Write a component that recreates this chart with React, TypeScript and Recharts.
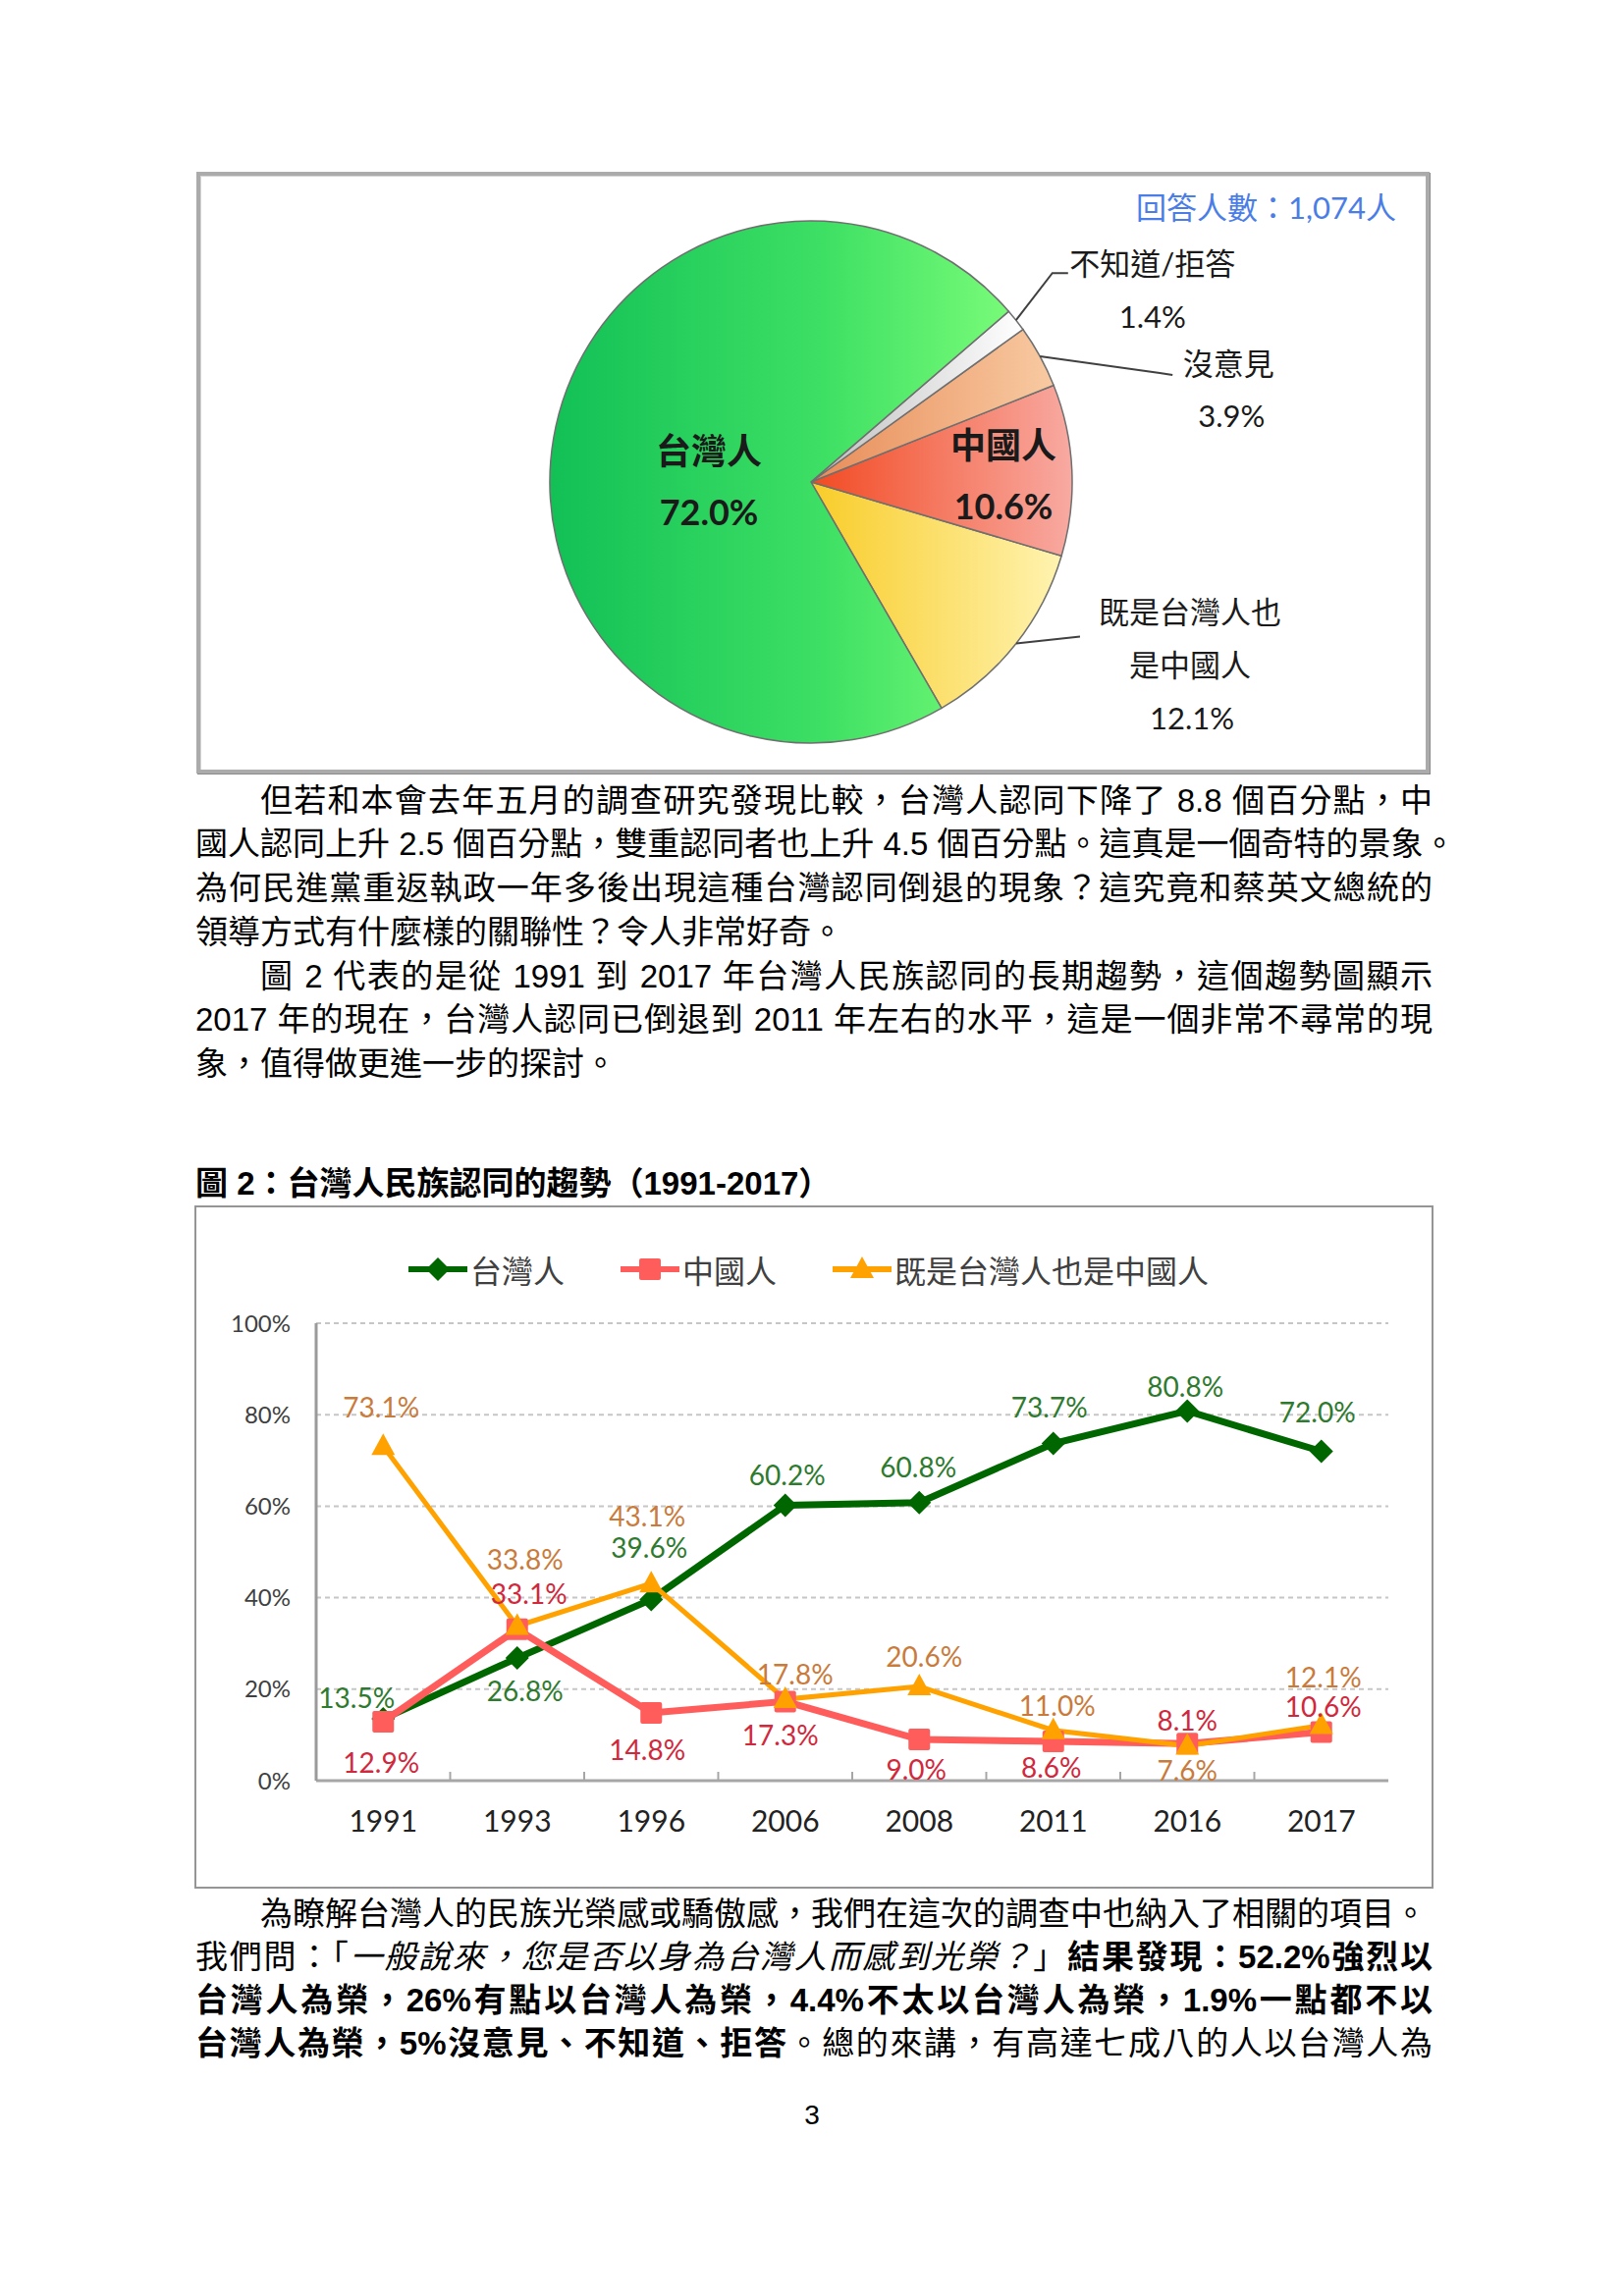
import React from "react";
import {
  CartesianGrid,
  Cell,
  LabelList,
  Line,
  LineChart,
  Pie,
  PieChart,
  XAxis,
  YAxis,
} from "recharts";

// ---- figure 1: pie (order follows the slices counter-clockwise from the bottom) ----
const pieNames = ["既是台灣人也是中國人", "中國人", "沒意見", "不知道/拒答", "台灣人"];
const pieValues = [12.1, 10.6, 3.9, 1.4, 72.0];
const respondents = "1,074";

// ---- figure 2: trend ----
const years = ["1991", "1993", "1996", "2006", "2008", "2011", "2016", "2017"];
const taiwanese = [13.5, 26.8, 39.6, 60.2, 60.8, 73.7, 80.8, 72.0];
const chinese = [12.9, 33.1, 14.8, 17.3, 9.0, 8.6, 8.1, 10.6];
const both = [73.1, 33.8, 43.1, 17.8, 20.6, 11.0, 7.6, 12.1];
const yTicks = [0, 20, 40, 60, 80, 100];

const trendData = years.map((year, i) => ({
  year,
  tw: taiwanese[i],
  cn: chinese[i],
  both: both[i],
}));

const series = [
  { key: "tw", name: "台灣人", color: "#006600", labelColor: "#2e7a2e", shape: "diamond", width: 7 },
  { key: "cn", name: "中國人", color: "#ff5c5c", labelColor: "#d0283c", shape: "square", width: 7 },
  { key: "both", name: "既是台灣人也是中國人", color: "#ffa200", labelColor: "#c97b3c", shape: "triangle", width: 5 },
];

const BODY_FONT = '"Liberation Sans", "Noto Sans CJK TC", sans-serif';
const CHART_FONT = 'Lato, "Noto Sans CJK TC", sans-serif';
const RAD = Math.PI / 180;

/* ---------------- pie labels ---------------- */

function PieLabel(props: any) {
  const { cx, cy, midAngle, outerRadius, index } = props;
  const pct = `${pieValues[index].toFixed(1)}%`;
  const ex = cx + outerRadius * Math.cos(-midAngle * RAD);
  const ey = cy + outerRadius * Math.sin(-midAngle * RAD);

  const txt = (x: number, y: number, s: string, size: number, bold = false, key?: string) => (
    <text
      key={key ?? s}
      x={x}
      y={y}
      textAnchor="middle"
      dominantBaseline="central"
      fontSize={size}
      fontWeight={bold ? 700 : 400}
      fontFamily={CHART_FONT}
      fill="#1a1a1a"
    >
      {s}
    </text>
  );
  const lead = "#404040";

  if (index === 4) {
    return (
      <g>
        {txt(cx - 104, cy - 32, "台灣人", 36, true)}
        {txt(cx - 104, cy + 30, pct, 36, true)}
      </g>
    );
  }
  if (index === 1) {
    return (
      <g>
        {txt(cx + 196, cy - 38, "中國人", 36, true)}
        {txt(cx + 196, cy + 24, pct, 36, true)}
      </g>
    );
  }
  if (index === 0) {
    return (
      <g>
        <polyline points={`${ex},${ey} ${ex + 65},${ey - 7}`} fill="none" stroke={lead} strokeWidth={2} />
        {txt(ex + 177, ey - 33, "既是台灣人也", 31)}
        {txt(ex + 177, ey + 21, "是中國人", 31)}
        {txt(ex + 179, ey + 75, pct, 31, false, "p0")}
      </g>
    );
  }
  if (index === 2) {
    return (
      <g>
        <polyline
          points={`${ex},${ey} ${ex + 122},${ey + 17} ${ex + 135},${ey + 19}`}
          fill="none"
          stroke={lead}
          strokeWidth={2}
        />
        {txt(ex + 192, ey + 7, "沒意見", 31)}
        {txt(ex + 195, ey + 60, pct, 31, false, "p2")}
      </g>
    );
  }
  return (
    <g>
      <polyline
        points={`${ex},${ey} ${ex + 37},${ey - 48} ${ex + 53},${ey - 48}`}
        fill="none"
        stroke={lead}
        strokeWidth={2}
      />
      {txt(ex + 139, ey - 58, "不知道/拒答", 31)}
      {txt(ex + 139, ey - 4, pct, 31, false, "p3")}
    </g>
  );
}

/* ---------------- trend chart pieces ---------------- */

function Marker({ cx, cy, shape, color }: { cx: number; cy: number; shape: string; color: string }) {
  if (shape === "diamond")
    return <polygon points={`${cx},${cy - 12} ${cx + 12},${cy} ${cx},${cy + 12} ${cx - 12},${cy}`} fill={color} />;
  if (shape === "square")
    return <rect x={cx - 11} y={cy - 11} width={22} height={22} rx={2} fill={color} />;
  return <polygon points={`${cx},${cy - 13} ${cx + 12},${cy + 9} ${cx - 12},${cy + 9}`} fill={color} />;
}

// label placement next to each point (dx, dy from the marker)
const labelOffsets: Record<string, [number, number][]> = {
  tw: [[-27, -22], [8, 33], [-2, -53], [2, -31], [-1, -37], [-4, -38], [-2, -25], [-4, -40]],
  cn: [[-2, 41], [12, -37], [-4, 37], [-5, 34], [-3, 30], [-2, 26], [0, -24], [2, -27]],
  both: [[-2, -40], [8, -68], [-4, -69], [10, -26], [5, -31], [4, -26], [0, 24], [2, -50]],
};

function makeLabel(key: string, color: string) {
  return function PointLabel(props: any) {
    const vb = props.viewBox || {};
    const x = props.x ?? vb.x;
    const y = props.y ?? vb.y;
    const i = props.index ?? 0;
    const v = Number(props.value);
    if (x == null || y == null || !Number.isFinite(v)) return null;
    const [dx, dy] = labelOffsets[key][i] || [0, -30];
    return (
      <text
        x={x + dx}
        y={y + dy}
        textAnchor="middle"
        dominantBaseline="central"
        fontSize={28}
        fontFamily={CHART_FONT}
        fill={color}
      >
        {v.toFixed(1)}%
      </text>
    );
  };
}

const CHART_W = 1259;
const CHART_H = 692;
const MARGIN = { top: 118, right: 45, bottom: 48, left: 42 };
const Y_AXIS_W = 80;
const PLOT_W = CHART_W - MARGIN.left - MARGIN.right - Y_AXIS_W;
const HALF_BAND = PLOT_W / years.length / 2;

function YearTick(props: any) {
  const { x, y, payload, index } = props;
  return (
    <g>
      {index > 0 && (
        <line x1={x - HALF_BAND} x2={x - HALF_BAND} y1={y} y2={y - 9} stroke="#a6a6a6" strokeWidth={2} />
      )}
      <text
        x={x}
        y={y + 40}
        textAnchor="middle"
        dominantBaseline="central"
        fontSize={30}
        fontFamily={CHART_FONT}
        fill="#222"
      >
        {payload.value}
      </text>
    </g>
  );
}

/* ---------------- page text ---------------- */

const LINE_H = 45;
const LEFT = 199;

function TextLine({
  cy,
  children,
  indent = false,
  justify = true,
  width = 1260,
  bold = false,
}: {
  cy: number;
  children: React.ReactNode;
  indent?: boolean;
  justify?: boolean;
  width?: number;
  bold?: boolean;
}) {
  return (
    <div
      style={{
        position: "absolute",
        left: LEFT,
        top: cy - 25,
        width,
        height: LINE_H,
        lineHeight: `${LINE_H}px`,
        fontSize: 33,
        fontFamily: BODY_FONT,
        fontWeight: bold ? 700 : 400,
        color: "#000",
        whiteSpace: "nowrap",
        textIndent: indent ? 66 : 0,
        textAlign: justify ? "justify" : "left",
        textAlignLast: justify ? "justify" : "left",
      }}
    >
      {children}
    </div>
  );
}

export default function App() {
  return (
    <div
      style={{
        position: "absolute",
        left: 0,
        top: 0,
        width: 1653,
        height: 2339,
        background: "#fff",
        overflow: "hidden",
      }}
    >
      {/* ---------- figure 1 ---------- */}
      <div
        style={{
          position: "absolute",
          left: 200,
          top: 175,
          width: 1256,
          height: 613,
          boxSizing: "border-box",
          border: "4px solid #ababab",
          boxShadow: "inset 1px 1px 0 #d4d4d4, 1px 1px 0 #8a8a8a",
        }}
      />
      <div
        style={{
          position: "absolute",
          left: 1157,
          top: 192,
          width: 280,
          height: 38,
          lineHeight: "38px",
          fontSize: 31,
          fontFamily: CHART_FONT,
          color: "#4a7de6",
          whiteSpace: "nowrap",
        }}
      >
        回答人數：{respondents}人
      </div>
      <div style={{ position: "absolute", left: 200, top: 175 }}>
        <PieChart width={1256} height={613} margin={{ top: 0, right: 0, bottom: 0, left: 0 }}>
          <defs>
            <linearGradient id="gTw" x1="0" y1="0" x2="1" y2="0">
              <stop offset="0%" stopColor="#12c056" />
              <stop offset="60%" stopColor="#3ee064" />
              <stop offset="100%" stopColor="#78fb78" />
            </linearGradient>
            <linearGradient id="gCn" x1="0" y1="0" x2="1" y2="0">
              <stop offset="0%" stopColor="#f24a22" />
              <stop offset="100%" stopColor="#f8aaa2" />
            </linearGradient>
            <linearGradient id="gBoth" x1="0" y1="0" x2="1" y2="0">
              <stop offset="0%" stopColor="#f8cc28" />
              <stop offset="100%" stopColor="#fff3b0" />
            </linearGradient>
            <linearGradient id="gNo" x1="0" y1="0" x2="1" y2="0">
              <stop offset="0%" stopColor="#e88c58" />
              <stop offset="100%" stopColor="#f8caa2" />
            </linearGradient>
            <linearGradient id="gDk" x1="0" y1="0" x2="1" y2="0">
              <stop offset="0%" stopColor="#bdbdbd" />
              <stop offset="100%" stopColor="#ffffff" />
            </linearGradient>
          </defs>
          <Pie
            data={pieNames.map((name, i) => ({ name, value: pieValues[i] }))}
            dataKey="value"
            nameKey="name"
            cx={626}
            cy={316}
            outerRadius={266}
            startAngle={-60}
            endAngle={300}
            stroke="#6f6f6f"
            strokeWidth={1.5}
            label={PieLabel}
            labelLine={false}
            isAnimationActive={false}
          >
            {["url(#gBoth)", "url(#gCn)", "url(#gNo)", "url(#gDk)", "url(#gTw)"].map((f, i) => (
              <Cell key={i} fill={f} />
            ))}
          </Pie>
        </PieChart>
      </div>

      {/* ---------- paragraphs ---------- */}
      <TextLine cy={818} indent>
        但若和本會去年五月的調查研究發現比較，台灣人認同下降了 8.8 個百分點，中
      </TextLine>
      <TextLine cy={862} justify={false} width={1300}>
        國人認同上升 2.5 個百分點，雙重認同者也上升 4.5 個百分點。這真是一個奇特的景象。
      </TextLine>
      <TextLine cy={907}>為何民進黨重返執政一年多後出現這種台灣認同倒退的現象？這究竟和蔡英文總統的</TextLine>
      <TextLine cy={952} justify={false}>
        領導方式有什麼樣的關聯性？令人非常好奇。
      </TextLine>
      <TextLine cy={997} indent>
        圖 2 代表的是從 1991 到 2017 年台灣人民族認同的長期趨勢，這個趨勢圖顯示
      </TextLine>
      <TextLine cy={1041}>2017 年的現在，台灣人認同已倒退到 2011 年左右的水平，這是一個非常不尋常的現</TextLine>
      <TextLine cy={1086} justify={false}>
        象，值得做更進一步的探討。
      </TextLine>

      <TextLine cy={1208} justify={false} bold>
        圖 2：台灣人民族認同的趨勢（1991-2017）
      </TextLine>

      {/* ---------- figure 2 ---------- */}
      <div
        style={{
          position: "absolute",
          left: 198,
          top: 1228,
          width: 1262,
          height: 696,
          boxSizing: "border-box",
          border: "2px solid #959595",
        }}
      />
      <div
        style={{
          position: "absolute",
          left: 416,
          top: 1273,
          height: 40,
          display: "flex",
          alignItems: "center",
          fontFamily: CHART_FONT,
          fontSize: 32,
          color: "#404040",
          whiteSpace: "nowrap",
        }}
      >
        {series.map((s, i) => (
          <div key={s.key} style={{ display: "flex", alignItems: "center", marginLeft: i === 0 ? 0 : 57 }}>
            <svg width={60} height={30}>
              <line x1={0} x2={60} y1={15} y2={15} stroke={s.color} strokeWidth={6} />
              <Marker cx={30} cy={15} shape={s.shape} color={s.color} />
            </svg>
            <span style={{ marginLeft: 3 }}>{s.name}</span>
          </div>
        ))}
      </div>
      <div style={{ position: "absolute", left: 200, top: 1230 }}>
        <LineChart width={CHART_W} height={CHART_H} data={trendData} margin={MARGIN}>
          <CartesianGrid vertical={false} stroke="#c6c6c6" strokeWidth={2} strokeDasharray="5 4" />
          <XAxis
            dataKey="year"
            padding={{ left: HALF_BAND, right: HALF_BAND }}
            axisLine={{ stroke: "#a6a6a6", strokeWidth: 3 }}
            tickLine={false}
            tickSize={0}
            tickMargin={0}
            height={60}
            interval={0}
            tick={<YearTick />}
          />
          <YAxis
            domain={[0, 100]}
            ticks={yTicks}
            tickFormatter={(v) => `${v}%`}
            axisLine={{ stroke: "#9a9a9a", strokeWidth: 3 }}
            tickLine={false}
            tickSize={0}
            tickMargin={26}
            width={Y_AXIS_W}
            tick={{ fontSize: 24, fill: "#404040", fontFamily: CHART_FONT }}
          />
          <YAxis
            yAxisId="frame"
            orientation="right"
            domain={[0, 100]}
            width={0}
            tick={false}
            tickLine={false}
            axisLine={{ stroke: "#cccccc", strokeWidth: 2 }}
          />
          {series.map((s) => (
            <Line
              key={s.key}
              dataKey={s.key}
              name={s.name}
              stroke={s.color}
              strokeWidth={s.width}
              isAnimationActive={false}
              activeDot={false}
              dot={(p: any) => (
                <Marker key={`${s.key}-${p.index}`} cx={p.cx} cy={p.cy} shape={s.shape} color={s.color} />
              )}
            >
              <LabelList dataKey={s.key} content={makeLabel(s.key, s.labelColor)} />
            </Line>
          ))}
        </LineChart>
      </div>

      {/* ---------- closing paragraph ---------- */}
      <TextLine cy={1952} indent justify={false} width={1300}>
        為瞭解台灣人的民族光榮感或驕傲感，我們在這次的調查中也納入了相關的項目。
      </TextLine>
      <TextLine cy={1996}>
        我們問：「<i>一般說來，您是否以身為台灣人而感到光榮？</i>」<b>結果發現：52.2%強烈以</b>
      </TextLine>
      <TextLine cy={2040} bold>
        台灣人為榮，26%有點以台灣人為榮，4.4%不太以台灣人為榮，1.9%一點都不以
      </TextLine>
      <TextLine cy={2084}>
        <b>台灣人為榮，5%沒意見、不知道、拒答</b>。總的來講，有高達七成八的人以台灣人為
      </TextLine>

      <div
        style={{
          position: "absolute",
          left: 777,
          top: 2135,
          width: 100,
          textAlign: "center",
          lineHeight: "40px",
          fontSize: 28,
          fontFamily: BODY_FONT,
          color: "#000",
        }}
      >
        3
      </div>
    </div>
  );
}
